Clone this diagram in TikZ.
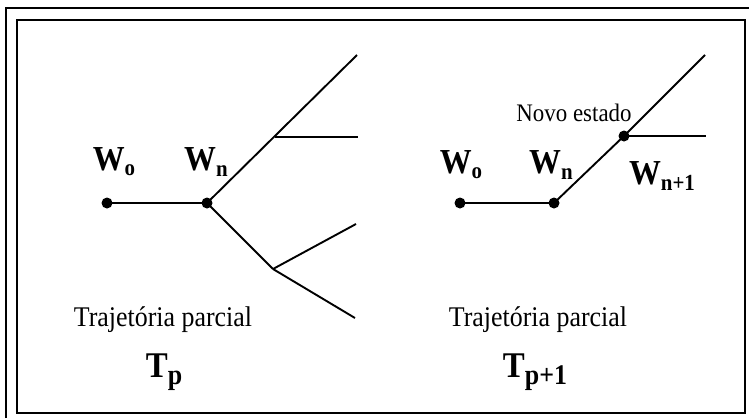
\documentclass[tikz,border=0pt]{standalone}
\usepackage{fontspec}
\setmainfont{Liberation Serif}
\newcommand{\wsub}[1]{\raisebox{-0.32ex}{\fontsize{21}{21}\selectfont #1}}
\newcommand{\tsub}[1]{\raisebox{-0.4ex}{\fontsize{26}{26}\selectfont #1}}
\newcommand{\tallish}[1]{\scalebox{1}[1.1]{#1}}
\begin{document}
\begin{tikzpicture}[x=1bp,y=-1bp,
  dot/.style={circle,fill=black,inner sep=0pt,minimum size=11bp},
  edge/.style={line width=1.9bp},
  wlabel/.style={font=\fontsize{32}{32}\selectfont\bfseries, inner sep=0pt},
  tlabel/.style={font=\fontsize{33}{33}\selectfont\bfseries, inner sep=0pt},
  note/.style={font=\fontsize{23}{23}\selectfont, inner sep=0pt},
  caption/.style={font=\fontsize{26}{26}\selectfont, inner sep=0pt}]
\useasboundingbox (0,0) rectangle (749,418);
% frames
\draw[line width=1.2bp] (6,418) -- (6,8) -- (749,8);
\draw[line width=1.8bp] (17,20) rectangle (745,413);
% ---------- left diagram ----------
\node[dot] (lw0) at (107,203) {};
\node[dot] (lwn) at (207,203) {};
\coordinate (lup) at (357,55);
\coordinate (lb1) at (275,137);
\coordinate (lh) at (358,137);
\coordinate (lb2) at (273,269);
\coordinate (ld1) at (356,224);
\coordinate (ld2) at (355,318);
\draw[edge] (lw0.center) -- (lwn.center);
\draw[edge] (lwn.center) -- (lup);
\draw[edge] (lb1) -- (lh);
\draw[edge] (lwn.center) -- (lb2);
\draw[edge] (lb2) -- (ld1);
\draw[edge] (lb2) -- (ld2);
\node[wlabel] (lw0t) at (114,162) {\tallish{W\wsub{o}}};
\node[wlabel] (lwnt) at (206,162) {\tallish{W\wsub{n}}};
\node[caption] (ltraj) at (163,320) {\tallish{Trajetória parcial}};
\node[tlabel] (ltp) at (164,372) {\tallish{T\tsub{p}}};
% ---------- right diagram ----------
\node[dot] (rw0) at (460,203) {};
\node[dot] (rwn) at (554,203) {};
\node[dot] (rnew) at (624,136) {};
\coordinate (rup) at (705,55);
\coordinate (rh) at (706,136);
\draw[edge] (rw0.center) -- (rwn.center);
\draw[edge] (rwn.center) -- (rnew.center);
\draw[edge] (rnew.center) -- (rup);
\draw[edge] (rnew.center) -- (rh);
\node[note] (rnovo) at (574,113) {\tallish{Novo estado}};
\node[wlabel] (rw0t) at (461,165) {\tallish{W\wsub{o}}};
\node[wlabel] (rwnt) at (551,165) {\tallish{W\wsub{n}}};
\node[wlabel] (rwn1t) at (662,176) {\tallish{W\wsub{n+1}}};
\node[caption] (rtraj) at (538,320) {\tallish{Trajetória parcial}};
\node[tlabel] (rtp) at (535,372) {\tallish{T\tsub{p+1}}};
\end{tikzpicture}
\end{document}
